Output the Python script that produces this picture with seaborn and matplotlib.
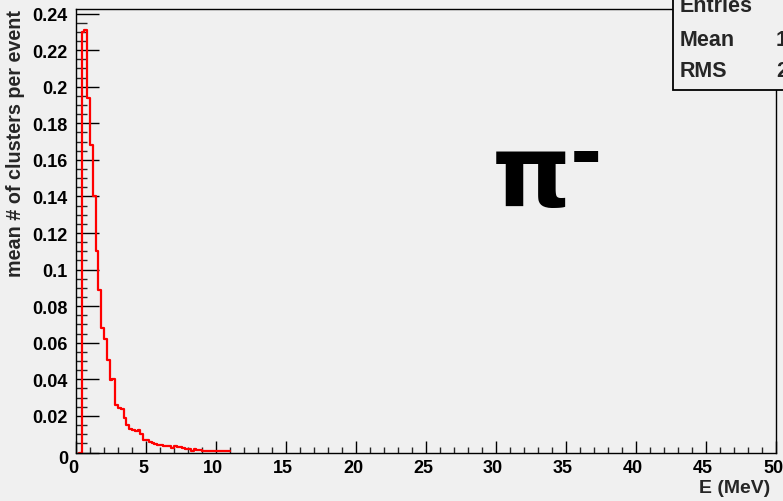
import numpy as np
import pandas as pd
import matplotlib
matplotlib.use("Agg")
import matplotlib.pyplot as plt
from matplotlib.patches import Rectangle
from matplotlib.ticker import MultipleLocator
import matplotlib.transforms as mtransforms
import seaborn as sns

# Mean number of clusters per event in 0.2 MeV energy bins, starting at 0.2 MeV
bin_width = 0.2
first_edge = 0.2
cluster_rate = [
    0.0,
    0.230, 0.231, 0.194, 0.168, 0.140, 0.110, 0.0886, 0.068, 0.062, 0.0505,
    0.0395, 0.040, 0.026, 0.0245, 0.0240, 0.019, 0.0153, 0.0126, 0.0125, 0.0117,
    0.0125, 0.0100, 0.0067, 0.0067, 0.0055, 0.0053, 0.0045, 0.0043, 0.0040, 0.0037,
    0.0035, 0.0034, 0.0022, 0.0035, 0.0030, 0.0028, 0.0022, 0.0020, 0.0018, 0.0010,
    0.0018, 0.0015, 0.0013, 0.0010, 0.0008, 0.0010, 0.0007, 0.0008, 0.0008, 0.0006,
    0.0007, 0.0006, 0.0006,
]
x_ticks = [0, 5, 10, 15, 20, 25, 30, 35, 40, 45, 50]
y_ticks = [0, 0.02, 0.04, 0.06, 0.08, 0.1, 0.12, 0.14, 0.16, 0.18, 0.2, 0.22, 0.24]
y_tick_labels = ["0", "0.02", "0.04", "0.06", "0.08", "0.1", "0.12", "0.14",
                 "0.16", "0.18", "0.2", "0.22", "0.24"]
stats_names = ["Entries", "Mean", "RMS"]
stats_values = ["1000", "1.527", "2.081"]

n_bins = len(cluster_rate)
edges = [round(first_edge + bin_width * i, 3) for i in range(n_bins + 1)]
centers = [0.5 * (a + b) for a, b in zip(edges[:-1], edges[1:])]
df = pd.DataFrame({"E": centers, "rate": cluster_rate})

sns.set_style("ticks")
bg = "#f0f0f0"
plt.rcParams["font.family"] = ["Liberation Sans", "DejaVu Sans"]
plt.rcParams["font.weight"] = "bold"

W, H = 783, 502
fig = plt.figure(figsize=(W / 100, H / 100), dpi=100, facecolor=bg)
ax_l, ax_r, ax_t, ax_b = 76, 776, 9.8, 453.5
ax = fig.add_axes([ax_l / W, 1 - ax_b / H, (ax_r - ax_l) / W, (ax_b - ax_t) / H])
ax.set_facecolor(bg)

sns.histplot(data=df, x="E", weights="rate", bins=edges, element="step",
             fill=False, color="#ff0000", linewidth=1.6, ax=ax)

ax.set_xlim(0, 50)
ax.set_ylim(0, 0.2426)
ax.set_xticks(x_ticks)
ax.set_xticklabels([str(v) for v in x_ticks])
ax.set_yticks(y_ticks)
ax.set_yticklabels(y_tick_labels)
ax.xaxis.set_minor_locator(MultipleLocator(1))
ax.yaxis.set_minor_locator(MultipleLocator(0.005))

for s in ax.spines.values():
    s.set_color("black")
    s.set_linewidth(1.0)
    s.set_zorder(3)

ax.tick_params(axis="x", which="major", direction="in", length=8.6, width=1.0,
               pad=4.5, labelsize=13, colors="black")
ax.tick_params(axis="x", which="minor", direction="in", length=4.3, width=1.0)
ax.tick_params(axis="y", which="major", direction="in", length=16.5, width=1.0,
               pad=5.8, labelsize=13, colors="black")
ax.tick_params(axis="y", which="minor", direction="in", length=8, width=1.0)
for lab in ax.get_xticklabels() + ax.get_yticklabels():
    lab.set_fontweight("bold")

# nudge tick labels the way the detector plots place them
shift_x = mtransforms.ScaledTranslation(-3 / 100, 0, fig.dpi_scale_trans)
for lab in ax.get_xticklabels():
    lab.set_transform(lab.get_transform() + shift_x)
shift_zero = mtransforms.ScaledTranslation(0, -4 / 100, fig.dpi_scale_trans)
zero_lab = ax.get_yticklabels()[0]
zero_lab.set_transform(zero_lab.get_transform() + shift_zero)

ax.set_ylabel("mean # of clusters per event", loc="top", fontsize=14.2,
              fontweight="bold")
ax.yaxis.set_label_coords((25 - ax_l) / (ax_r - ax_l), 1.0)
ax.set_xlabel("E (MeV)", loc="right", fontsize=14, fontweight="bold")
ax.xaxis.set_label_coords(1 - 6 / (ax_r - ax_l), -(480 - ax_b) / (ax_b - ax_t))

# particle label
fig.text(531.5 / W, 1 - 207 / H, "π", fontsize=72, fontweight="bold",
         family="DejaVu Sans", ha="center", va="baseline", color="black")
fig.text(586 / W, 1 - 157 / H, "-", fontsize=56, fontweight="bold",
         family="DejaVu Sans", ha="center", va="center", color="black")

# statistics box in the top-right corner
box_l, box_b = 672.7, 90.7
fig.patches.append(Rectangle((box_l / W, 1 - box_b / H), (900 - box_l) / W,
                             (box_b + 20) / H, transform=fig.transFigure,
                             facecolor=bg, edgecolor="black", linewidth=1.3,
                             zorder=5))
row_y = [7, 40.7, 71.7]
for name, val, yy in zip(stats_names, stats_values, row_y):
    fig.text(680 / W, 1 - yy / H, name, fontsize=15.5, fontweight="bold",
             ha="left", va="center", zorder=6)
    fig.text(830 / W, 1 - yy / H, val, fontsize=15.5, fontweight="bold",
             ha="right", va="center", zorder=6)

fig.savefig("out.png", dpi=100, facecolor=bg)
